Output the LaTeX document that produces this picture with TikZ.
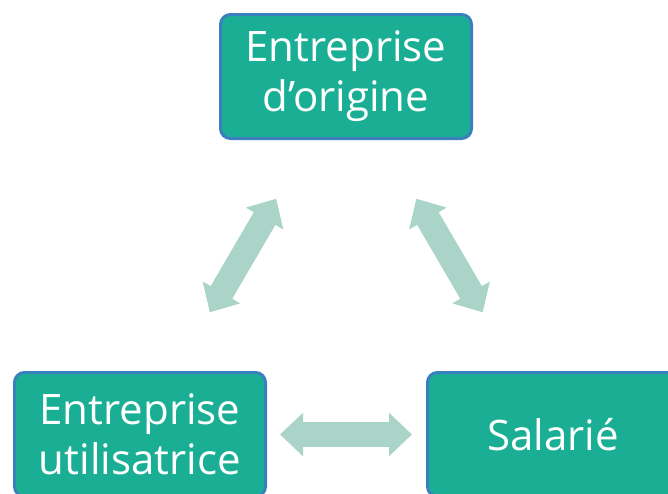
\documentclass[tikz,border=0pt]{standalone}
\usepackage{fontspec}
\setmainfont{Open Sans}
\usetikzlibrary{arrows.meta}
\definecolor{boxfill}{HTML}{1AAF94}
\definecolor{boxline}{HTML}{3A80BF}
\definecolor{arrowfill}{HTML}{A9D4C7}
\begin{document}
\begin{tikzpicture}[x=1pt,y=-1pt,
  party/.style={draw=boxline, fill=boxfill, line width=3pt, rounded corners=10pt,
    minimum width=251pt, minimum height=124pt, inner sep=0pt, text=white,
    align=center, font=\fontsize{42}{50}\selectfont},
  biarrow/.style={draw=arrowfill, line width=25pt,
    {Triangle[width=42pt,length=23pt,fill=arrowfill]}-{Triangle[width=42pt,length=23pt,fill=arrowfill]}}]
  \useasboundingbox (0,0) rectangle (668,493);
  \clip (0,0) rectangle (668,493);
  % the three parties
  \node[party] (orig) at (346,76.5) {Entreprise\\d’origine};
  \node[party] (util) at (140,434.5) {Entreprise\\utilisatrice};
  \node[party] (sal) at (553,434.5) {Salarié};
  % two-way relations
  \draw[biarrow, shorten <=68pt, shorten >=68pt] ([xshift=35.5pt]util.north) -- ([xshift=-35.5pt]orig.south);
  \draw[biarrow, shorten <=68pt, shorten >=68pt] ([xshift=36pt]orig.south) -- ([xshift=-36pt]sal.north);
  \draw[biarrow, shorten <=13pt, shorten >=14pt] (util.east) -- (sal.west);
\end{tikzpicture}
\end{document}
